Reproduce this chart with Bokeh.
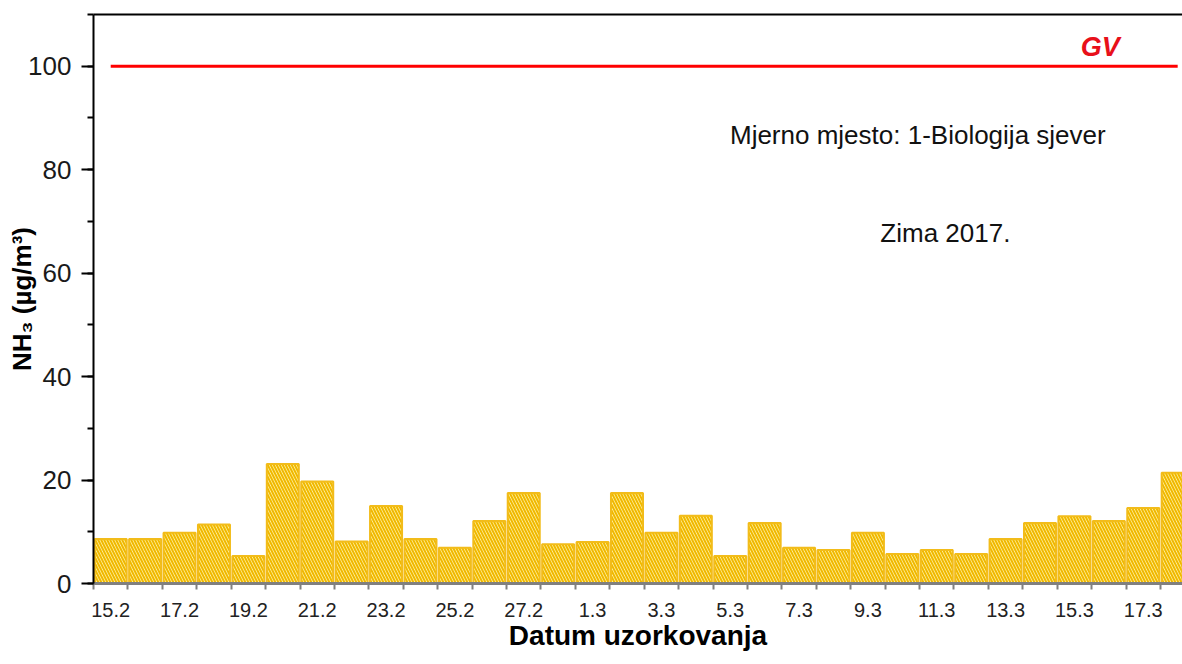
from bokeh.plotting import figure
from bokeh.models import Range1d, FixedTicker, SingleIntervalTicker, LinearAxis, Label
from bokeh.embed import file_html
from bokeh.resources import INLINE

# ---- data ----
dates = ["15.2", "16.2", "17.2", "18.2", "19.2", "20.2", "21.2", "22.2",
         "23.2", "24.2", "25.2", "26.2", "27.2", "28.2", "1.3", "2.3",
         "3.3", "4.3", "5.3", "6.3", "7.3", "8.3", "9.3", "10.3",
         "11.3", "12.3", "13.3", "14.3", "15.3", "16.3", "17.3", "18.3"]
nh3 = [8.6, 8.6, 9.8, 11.4, 5.3, 23.1, 19.7, 8.1,
       15.0, 8.6, 6.9, 12.1, 17.5, 7.6, 8.0, 17.5,
       9.8, 13.1, 5.3, 11.7, 6.9, 6.5, 9.8, 5.7,
       6.5, 5.7, 8.6, 11.7, 13.0, 12.1, 14.6, 21.4]
gv_limit = 100
station_text = "Mjerno mjesto: 1-Biologija sjever"
season_text = "Zima 2017."
x_title = "Datum uzorkovanja"
y_title = "NH\u2083 (\u00b5g/m\u00b3)"

FONT = "Liberation Sans"
idx = list(range(len(dates)))

p = figure(width=1182, height=656, output_backend="svg", toolbar_location=None,
           x_range=Range1d(-0.5, 31.14), y_range=Range1d(0, 110),
           min_border_left=93, min_border_right=0, min_border_top=14,
           min_border_bottom=73)
p.background_fill_color = "white"
p.border_fill_color = "white"
p.outline_line_color = None
p.xgrid.visible = False
p.ygrid.visible = False

# bars
p.vbar(x=idx, top=nh3, bottom=0, width=0.93,
       fill_color="#FFF4B0", line_color="#F2BC1A", line_width=2,
       hatch_pattern="\\", hatch_color="#F0B800", hatch_scale=6, hatch_weight=2)

# GV limit line
p.line(x=[idx[0], idx[-1]], y=[gv_limit, gv_limit], line_color="#FF0000", line_width=3)

# annotations
p.add_layout(Label(x=28.75, y=103.7, text="GV", text_color="#E8101A",
                   text_font=FONT, text_font_size="27px", text_font_style="bold italic",
                   text_align="center", text_baseline="middle"))
p.add_layout(Label(x=23.45, y=86.8, text=station_text, text_color="#111111",
                   text_font=FONT, text_font_size="26px",
                   text_align="center", text_baseline="middle"))
p.add_layout(Label(x=24.25, y=67.7, text=season_text, text_color="#111111",
                   text_font=FONT, text_font_size="26px",
                   text_align="center", text_baseline="middle"))

# x axis
xa = p.xaxis[0]
xa.ticker = FixedTicker(ticks=idx[::2], minor_ticks=[i - 0.5 for i in range(len(dates) + 1)])
xa.major_label_overrides = {i: dates[i] for i in idx}
xa.axis_line_color = "#808080"
xa.axis_line_width = 3
xa.major_tick_out = 0
xa.major_tick_in = 0
xa.minor_tick_out = 6
xa.minor_tick_in = 0
xa.minor_tick_line_color = "#808080"
xa.minor_tick_line_width = 2
xa.major_label_text_font = FONT
xa.major_label_text_font_size = "20px"
xa.major_label_text_color = "#222222"
xa.major_label_standoff = 13
xa.axis_label = x_title
xa.axis_label_text_font = FONT
xa.axis_label_text_font_size = "28px"
xa.axis_label_text_font_style = "bold"
xa.axis_label_text_color = "#000000"
xa.axis_label_standoff = 0

# y axis
ya = p.yaxis[0]
ya.ticker = SingleIntervalTicker(interval=20, num_minor_ticks=2)
ya.axis_line_color = "black"
ya.axis_line_width = 2
ya.major_tick_out = 12
ya.major_tick_in = 0
ya.minor_tick_out = 6
ya.minor_tick_in = 0
ya.major_tick_line_color = "black"
ya.major_tick_line_width = 2
ya.minor_tick_line_color = "black"
ya.minor_tick_line_width = 2
ya.major_label_text_font = FONT
ya.major_label_text_font_size = "26px"
ya.major_label_text_color = "#1a1a1a"
ya.major_label_standoff = 10
ya.axis_label = y_title
ya.axis_label_text_font = FONT
ya.axis_label_text_font_size = "26px"
ya.axis_label_text_font_style = "bold"
ya.axis_label_text_color = "#000000"
ya.axis_label_standoff = -12

# top border line
top = LinearAxis(ticker=FixedTicker(ticks=[]), axis_line_color="black", axis_line_width=2,
                 major_tick_out=0, major_tick_in=0, minor_tick_out=0, minor_tick_in=0,
                 major_label_standoff=0, major_label_text_font_size="0px")
p.add_layout(top, "above")

open("out.html", "w").write(file_html(p, INLINE))
